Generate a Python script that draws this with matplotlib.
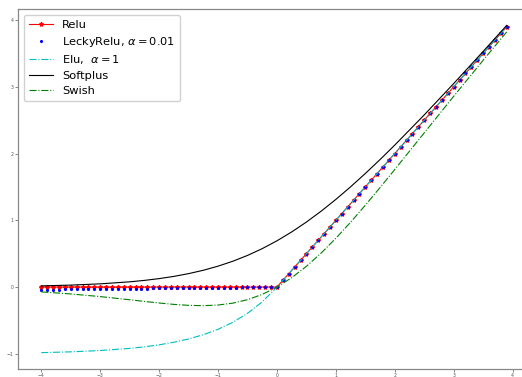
import matplotlib
matplotlib.use("Agg")
import matplotlib.pyplot as plt

# grid used for Relu / LeakyRelu points
x_pts = [-4.0, -3.9, -3.8, -3.7, -3.6, -3.5, -3.4, -3.3, -3.2, -3.1,
         -3.0, -2.9, -2.8, -2.7, -2.6, -2.5, -2.4, -2.3, -2.2, -2.1,
         -2.0, -1.9, -1.8, -1.7, -1.6, -1.5, -1.4, -1.3, -1.2, -1.1,
         -1.0, -0.9, -0.8, -0.7, -0.6, -0.5, -0.4, -0.3, -0.2, -0.1,
         0.0, 0.1, 0.2, 0.3, 0.4, 0.5, 0.6, 0.7, 0.8, 0.9,
         1.0, 1.1, 1.2, 1.3, 1.4, 1.5, 1.6, 1.7, 1.8, 1.9,
         2.0, 2.1, 2.2, 2.3, 2.4, 2.5, 2.6, 2.7, 2.8, 2.9,
         3.0, 3.1, 3.2, 3.3, 3.4, 3.5, 3.6, 3.7, 3.8, 3.9]

relu_y = [0.0] * 40 + [0.0, 0.1, 0.2, 0.3, 0.4, 0.5, 0.6, 0.7, 0.8, 0.9,
                       1.0, 1.1, 1.2, 1.3, 1.4, 1.5, 1.6, 1.7, 1.8, 1.9,
                       2.0, 2.1, 2.2, 2.3, 2.4, 2.5, 2.6, 2.7, 2.8, 2.9,
                       3.0, 3.1, 3.2, 3.3, 3.4, 3.5, 3.6, 3.7, 3.8, 3.9]

leaky_y = [-0.040, -0.039, -0.038, -0.037, -0.036, -0.035, -0.034, -0.033, -0.032, -0.031,
           -0.030, -0.029, -0.028, -0.027, -0.026, -0.025, -0.024, -0.023, -0.022, -0.021,
           -0.020, -0.019, -0.018, -0.017, -0.016, -0.015, -0.014, -0.013, -0.012, -0.011,
           -0.010, -0.009, -0.008, -0.007, -0.006, -0.005, -0.004, -0.003, -0.002, -0.001,
           0.0, 0.1, 0.2, 0.3, 0.4, 0.5, 0.6, 0.7, 0.8, 0.9,
           1.0, 1.1, 1.2, 1.3, 1.4, 1.5, 1.6, 1.7, 1.8, 1.9,
           2.0, 2.1, 2.2, 2.3, 2.4, 2.5, 2.6, 2.7, 2.8, 2.9,
           3.0, 3.1, 3.2, 3.3, 3.4, 3.5, 3.6, 3.7, 3.8, 3.9]

# grid used for the smooth curves
x_curve = [-4.0, -3.5, -3.0, -2.5, -2.25, -2.0, -1.75, -1.5, -1.25, -1.0,
           -0.75, -0.5, -0.25, 0.0, 0.25, 0.5, 0.75, 1.0, 1.25, 1.5,
           1.75, 2.0, 2.5, 3.0, 3.5, 3.9]

elu_y = [-0.9817, -0.9698, -0.9502, -0.9179, -0.8946, -0.8647, -0.8262, -0.7769, -0.7135, -0.6321,
         -0.5276, -0.3935, -0.2212, 0.0, 0.25, 0.5, 0.75, 1.0, 1.25, 1.5,
         1.75, 2.0, 2.5, 3.0, 3.5, 3.9]

softplus_y = [0.0182, 0.0298, 0.0486, 0.0789, 0.1002, 0.1269, 0.1602, 0.2014, 0.2519, 0.3133,
              0.3869, 0.4741, 0.5759, 0.6931, 0.8259, 0.9741, 1.1369, 1.3133, 1.5019, 1.7014,
              1.9102, 2.1269, 2.5789, 3.0486, 3.5298, 3.9200]

swish_y = [-0.0719, -0.1026, -0.1423, -0.1896, -0.2145, -0.2384, -0.2591, -0.2736, -0.2784, -0.2689,
           -0.2406, -0.1888, -0.1095, 0.0, 0.1405, 0.3112, 0.5094, 0.7311, 0.9716, 1.2264,
           1.4909, 1.7616, 2.3104, 2.8577, 3.3974, 3.8226]

fig = plt.figure(figsize=(5.22, 3.77), dpi=100)
ax = fig.add_axes([18 / 522, 8 / 377, 512 / 522, 360 / 377])

ax.plot(x_pts, relu_y, color='red', marker='*', markersize=3, linewidth=0.8, label='Relu')
ax.plot(x_pts, leaky_y, 'b.', markersize=2.5, label=r'LeckyRelu, $\alpha = 0.01$')
ax.plot(x_curve, elu_y, color='c', linestyle='-.', linewidth=0.8, label=r'Elu,  $\alpha = 1$')
ax.plot(x_curve, softplus_y, color='k', linewidth=0.8, label='Softplus')
ax.plot(x_curve, swish_y, color='g', linestyle='-.', linewidth=0.8, label='Swish')

ax.set_xticks([-4, -3, -2, -1, 0, 1, 2, 3, 4])
ax.set_yticks([-1, 0, 1, 2, 3, 4])
ax.tick_params(labelsize=3.3, length=2, width=0.5, colors='#555555', pad=1.0)
for s in ax.spines.values():
    s.set_color('#888888')
    s.set_linewidth(0.9)

leg = ax.legend(loc='upper left', fontsize=8.2, handlelength=2.1, borderpad=0.45,
                labelspacing=0.42, framealpha=0.9, borderaxespad=0.5)

fig.savefig('out.png', dpi=100)
